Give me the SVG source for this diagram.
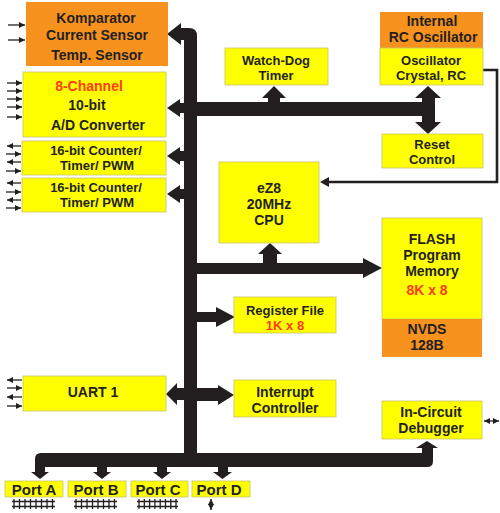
<svg xmlns="http://www.w3.org/2000/svg" width="500" height="513" viewBox="0 0 500 513">
<defs>
<style>
.y{fill:#FFFF00;stroke:#C9C36A;stroke-width:0.8}
.o{fill:#F7921E}
.t{font-family:"Liberation Sans",Arial,sans-serif;font-weight:bold;font-size:14px;fill:#231F20;text-anchor:middle}
.s{font-size:13px}
.r{fill:#FF3B14}
.p{font-size:15px}
.bus{fill:#231F20}
.thin{stroke:#231F20;stroke-width:1.3;fill:none}
</style>
<marker id="ah" viewBox="0 0 6 6" refX="6" refY="3" markerWidth="6" markerHeight="6" markerUnits="userSpaceOnUse" orient="auto">
<path d="M0,0 L6,3 L0,6 Z" fill="#231F20"/>
</marker>
<marker id="ahs" viewBox="0 0 6 6" refX="0" refY="3" markerWidth="6" markerHeight="6" markerUnits="userSpaceOnUse" orient="auto">
<path d="M6,0 L0,3 L6,6 Z" fill="#231F20"/>
</marker>
</defs>
<rect width="500" height="513" fill="#FFFFFF"/>

<g id="connectors">
<path class="bus" d="M180,28 H189 Q197,28 197,36 V453 H184 V40 H180 Z"/>
<polygon class="bus" points="181,23 167,34 181,45"/>
<polygon class="bus" points="167,108 180,99 180,103 184,103 184,113 180,113 180,117"/>
<polygon class="bus" points="167,156 180,147 180,151 184,151 184,161 180,161 180,165"/>
<polygon class="bus" points="167,194 180,185 180,189 184,189 184,199 180,199 180,203"/>
<polygon class="bus" points="166,394 177,383 177,388 184,388 184,400 177,400 177,405"/>
<polygon class="bus" points="197,388 218,388 218,385 234,395 218,405 218,401 197,401"/>
<polygon class="bus" points="197,312 216,312 216,307 235,317 216,327 216,322 197,322"/>
<rect class="bus" x="197" y="102" width="238" height="14"/>
<rect class="bus" x="268" y="97" width="12" height="6"/>
<polygon class="bus" points="262,98 286,98 274,86"/>
<rect class="bus" x="422" y="97" width="13" height="26"/>
<polygon class="bus" points="415,98 441,98 428,86"/>
<polygon class="bus" points="415,122 441,122 428,134"/>
<rect class="bus" x="197" y="263" width="167" height="11"/>
<polygon class="bus" points="363,258 382,268 363,278"/>
<rect class="bus" x="263" y="253" width="14" height="11"/>
<polygon class="bus" points="258,254 282,254 270,243"/>
<path class="bus" d="M35,473 V459 Q35,453 41,453 H422 V447 H433 V461 Q433,467 427,467 H45 V473 Z"/>
<polygon class="bus" points="31,472 49,472 40,479"/>
<polygon class="bus" points="416,448 438,448 427,441"/>
<rect class="bus" x="97" y="466" width="10" height="7"/>
<polygon class="bus" points="93,472 111,472 102,479"/>
<rect class="bus" x="157" y="466" width="10" height="7"/>
<polygon class="bus" points="153,472 171,472 162,479"/>
<rect class="bus" x="218" y="466" width="10" height="7"/>
<polygon class="bus" points="213,472 232,472 222.5,479"/>
<polyline points="483,70 497,70 497,182 327,182" fill="none" stroke="#231F20" stroke-width="2.6"/>
<polygon class="bus" points="320,182 329,177 329,187"/>
<g class="thin">
<line x1="8" y1="25" x2="25" y2="25" marker-end="url(#ah)"/>
<line x1="8" y1="40" x2="25" y2="40" marker-end="url(#ah)"/>
<line x1="7" y1="83" x2="22" y2="83" marker-end="url(#ah)"/>
<line x1="7" y1="91" x2="22" y2="91" marker-end="url(#ah)"/>
<line x1="7" y1="99" x2="22" y2="99" marker-end="url(#ah)"/>
<line x1="7" y1="107" x2="22" y2="107" marker-end="url(#ah)"/>
<line x1="7" y1="117" x2="22" y2="117" marker-end="url(#ah)"/>
<line x1="21" y1="146" x2="7" y2="146" marker-end="url(#ah)"/>
<line x1="6" y1="154" x2="21" y2="154" marker-end="url(#ah)"/>
<line x1="21" y1="162" x2="7" y2="162" marker-end="url(#ah)"/>
<line x1="6" y1="171" x2="21" y2="171" marker-end="url(#ah)"/>
<line x1="21" y1="183" x2="7" y2="183" marker-end="url(#ah)"/>
<line x1="6" y1="192" x2="21" y2="192" marker-end="url(#ah)"/>
<line x1="21" y1="200" x2="7" y2="200" marker-end="url(#ah)"/>
<line x1="6" y1="208" x2="21" y2="208" marker-end="url(#ah)"/>
<line x1="22" y1="380" x2="7" y2="380" marker-end="url(#ah)"/>
<line x1="7" y1="388" x2="22" y2="388" marker-end="url(#ah)"/>
<line x1="22" y1="397" x2="7" y2="397" marker-end="url(#ah)"/>
<line x1="7" y1="406" x2="22" y2="406" marker-end="url(#ah)"/>
<line x1="484" y1="421" x2="499" y2="421" marker-start="url(#ahs)" marker-end="url(#ah)"/>
<line x1="211" y1="499" x2="211" y2="510" marker-start="url(#ahs)" marker-end="url(#ah)"/>
</g>
<g class="thin">
<path d="M12,501.5 H55 M12,506.5 H55 M14,499 V509 M19.5,499 V509 M25,499 V509 M30.5,499 V509 M36,499 V509 M41.5,499 V509 M47,499 V509 M52.5,499 V509"/>
<path d="M74,501.5 H117 M74,506.5 H117 M76,499 V509 M81.5,499 V509 M87,499 V509 M92.5,499 V509 M98,499 V509 M103.5,499 V509 M109,499 V509 M114.5,499 V509"/>
<path d="M137,501.5 H178 M137,506.5 H178 M139,499 V509 M144.3,499 V509 M149.6,499 V509 M154.9,499 V509 M160.2,499 V509 M165.5,499 V509 M170.8,499 V509 M176,499 V509"/>
</g>
</g>

<g id="komparator">
<rect class="o" x="26" y="2" width="142" height="64"/>
<text class="t" x="96" y="23">Komparator</text>
<text class="t" x="97" y="40">Current Sensor</text>
<text class="t" x="97" y="60">Temp. Sensor</text>
</g>
<g id="adc">
<rect class="y" x="23" y="72" width="143" height="65"/>
<text class="t r" x="89" y="91">8-Channel</text>
<text class="t" x="87" y="110">10-bit</text>
<text class="t" x="98" y="130">A/D Converter</text>
</g>
<g id="counter1">
<rect class="y" x="22" y="141" width="144" height="34"/>
<text class="t s" x="96" y="155">16-bit Counter/</text>
<text class="t s" x="97" y="170">Timer/ PWM</text>
</g>
<g id="counter2">
<rect class="y" x="22" y="178" width="144" height="34"/>
<text class="t s" x="96" y="192">16-bit Counter/</text>
<text class="t s" x="97" y="207">Timer/ PWM</text>
</g>
<g id="uart">
<rect class="y" x="23" y="376" width="143" height="35"/>
<text class="t" x="93" y="397">UART 1</text>
</g>
<g id="watchdog">
<rect class="y" x="225" y="48" width="103" height="37"/>
<text class="t s" x="276" y="65">Watch-Dog</text>
<text class="t s" x="276" y="80">Timer</text>
</g>
<g id="oscillator">
<rect class="o" x="380" y="12" width="103" height="36"/>
<rect class="y" x="380" y="48" width="103" height="37"/>
<text class="t" x="432" y="26">Internal</text>
<text class="t" x="433" y="42">RC Oscillator</text>
<text class="t s" x="431" y="65">Oscillator</text>
<text class="t s" x="431" y="80">Crystal, RC</text>
</g>
<g id="reset">
<rect class="y" x="382" y="134" width="101" height="34"/>
<text class="t s" x="432" y="149">Reset</text>
<text class="t s" x="432" y="164">Control</text>
</g>
<g id="cpu">
<rect class="y" x="219" y="162" width="100" height="81"/>
<text class="t" x="269" y="193">eZ8</text>
<text class="t" x="269" y="209">20MHz</text>
<text class="t" x="269" y="225">CPU</text>
</g>
<g id="flash">
<rect class="y" x="382" y="218" width="100" height="101"/>
<rect class="o" x="382" y="319" width="100" height="38"/>
<text class="t" x="432" y="244">FLASH</text>
<text class="t" x="432" y="260">Program</text>
<text class="t" x="432" y="276">Memory</text>
<text class="t r" x="427" y="295">8K x 8</text>
<text class="t" x="427" y="334">NVDS</text>
<text class="t" x="427" y="350">128B</text>
</g>
<g id="register">
<rect class="y" x="234" y="297" width="102" height="36"/>
<text class="t s" x="285" y="315">Register File</text>
<text class="t s r" x="285" y="330">1K x 8</text>
</g>
<g id="interrupt">
<rect class="y" x="234" y="380" width="102" height="37"/>
<text class="t" x="285" y="397">Interrupt</text>
<text class="t" x="285" y="413">Controller</text>
</g>
<g id="debugger">
<rect class="y" x="382" y="401" width="100" height="38"/>
<text class="t" x="431" y="417">In-Circuit</text>
<text class="t" x="431" y="433">Debugger</text>
</g>
<g id="portA">
<rect class="y" x="5" y="481" width="58" height="16"/>
<text class="t p" x="34" y="495">Port A</text>
</g>
<g id="portB">
<rect class="y" x="68" y="481" width="58" height="16"/>
<text class="t p" x="96" y="495">Port B</text>
</g>
<g id="portC">
<rect class="y" x="131" y="481" width="57" height="16"/>
<text class="t p" x="158" y="495">Port C</text>
</g>
<g id="portD">
<rect class="y" x="192" y="481" width="58" height="16"/>
<text class="t p" x="219" y="495">Port D</text>
</g>
</svg>
